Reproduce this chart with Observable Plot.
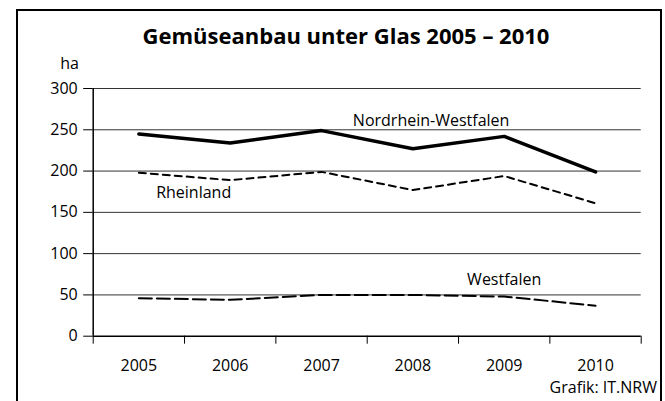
<!DOCTYPE html>
<html>
<head>
<meta charset="utf-8">
<script src="https://cdn.jsdelivr.net/npm/d3@7"></script>
<script src="https://cdn.jsdelivr.net/npm/@observablehq/plot@0.6"></script>
<style>
  html, body { margin: 0; padding: 0; background: #fff; overflow: hidden; }
  #page { position: relative; width: 665px; height: 401px; font-family: "Open Sans", sans-serif; color: #000; }
  #frame { position: absolute; left: 16px; top: 9px; width: 646px; height: 420px; border: 2px solid #000; box-sizing: border-box; }
  #title { position: absolute; left: 346px; top: 21px; transform: translateX(-50%); white-space: nowrap; font-weight: 700; font-size: 22px; line-height: 28px; }
  #caption { position: absolute; right: 8px; top: 376px; font-size: 16px; line-height: 22px; white-space: nowrap; }
  #chart { position: absolute; left: 0; top: 0; }
</style>
</head>
<body>
<div id="page">
  <div id="frame"></div>
  <div id="chart"></div>
  <div id="title">Gemüseanbau unter Glas 2005 – 2010</div>
  <div id="caption">Grafik: IT.NRW</div>
</div>
<script>
const years = [2005, 2006, 2007, 2008, 2009, 2010];
const nrw = [245, 234, 249, 227, 242, 199];
const rheinland = [198, 189, 199, 177, 194, 161];
const westfalen = [46, 44, 50, 50, 48, 37];
const yTicks = [0, 50, 100, 150, 200, 250, 300];
const unitLabel = "ha";
const seriesNames = ["Nordrhein-Westfalen", "Rheinland", "Westfalen"];
const labelYears = [2008.2, 2005.6, 2009];
const labelValues = [261, 173, 68];

const rows = [];
[nrw, rheinland, westfalen].forEach((vals, i) => {
  vals.forEach((v, j) => rows.push({series: seriesNames[i], year: years[j], value: v}));
});
const labels = seriesNames.map((s, i) => ({series: s, year: labelYears[i], value: labelValues[i]}));
const boundaries = [years[0] - 0.5, ...years.map(y => y + 0.5)];

const chart = Plot.plot({
  width: 665,
  height: 401,
  marginLeft: 92.7,
  marginRight: 24.3,
  marginTop: 88,
  marginBottom: 65.3,
  style: {fontFamily: "'Open Sans', sans-serif", fontSize: "16px", color: "#000", background: "transparent", overflow: "visible"},
  x: {domain: [boundaries[0], boundaries[boundaries.length - 1]]},
  y: {domain: [0, 300]},
  marks: [
    Plot.ruleY(yTicks.filter(d => d > 0), {stroke: "#333", strokeWidth: 1}),
    Plot.axisY({ticks: yTicks, tickSize: 9.5, tickPadding: 6, tickFormat: d => String(d), label: null, fontSize: 16}),
    Plot.axisX({ticks: boundaries, tickSize: 8, tickFormat: () => "", label: null}),
    Plot.axisX({ticks: years, tickSize: 0, tickPadding: 23, tickFormat: d => String(d), label: null, fontSize: 16}),
    Plot.ruleY([0], {stroke: "#000", strokeWidth: 1.5}),
    Plot.ruleX([boundaries[0]], {y1: 0, y2: 300, stroke: "#000", strokeWidth: 1.5}),
    Plot.text([unitLabel], {frameAnchor: "top-left", text: d => d, dx: -33, dy: -31, fontSize: 16}),
    Plot.line(rows.filter(d => d.series === seriesNames[2]), {x: "year", y: "value", stroke: "#000", strokeWidth: 2, strokeDasharray: "13,5"}),
    Plot.line(rows.filter(d => d.series === seriesNames[1]), {x: "year", y: "value", stroke: "#000", strokeWidth: 2, strokeDasharray: "7,5"}),
    Plot.line(rows.filter(d => d.series === seriesNames[0]), {x: "year", y: "value", stroke: "#000", strokeWidth: 3.5}),
    Plot.text(labels, {x: "year", y: "value", text: "series", fontSize: 16, fill: "#000"})
  ]
});
document.getElementById("chart").appendChild(chart);
</script>
</body>
</html>
